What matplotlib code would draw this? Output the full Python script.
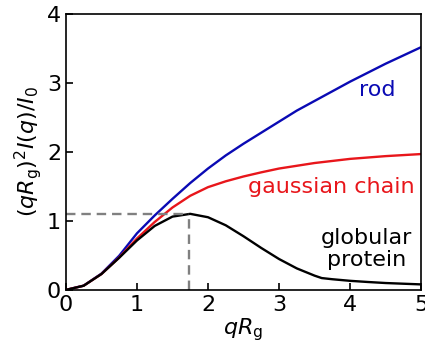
import matplotlib
matplotlib.use('Agg')
import matplotlib.pyplot as plt

# q*Rg values (shared grid for rod and gaussian chain)
qrg = [0, 0.25, 0.5, 0.75, 1.0, 1.25, 1.5, 1.75, 2.0, 2.25, 2.5,
       2.75, 3.0, 3.25, 3.5, 3.75, 4.0, 4.25, 4.5, 4.75, 5.0]

rod = [0, 0.062, 0.236, 0.495, 0.82, 1.08, 1.32, 1.55, 1.76, 1.95, 2.12,
       2.28, 2.44, 2.60, 2.74, 2.88, 3.02, 3.15, 3.28, 3.40, 3.52]

gauss = [0, 0.061, 0.230, 0.470, 0.745, 0.985, 1.195, 1.365, 1.49, 1.575, 1.645,
         1.705, 1.76, 1.80, 1.84, 1.87, 1.90, 1.92, 1.94, 1.955, 1.97]

# globular protein has its own grid (kink near 3.6)
qrg_glob = [0, 0.25, 0.5, 0.75, 1.0, 1.25, 1.5, 1.75, 2.0, 2.25, 2.5,
            2.75, 3.0, 3.25, 3.5, 3.6, 3.75, 4.0, 4.25, 4.5, 4.75, 5.0]
glob = [0, 0.061, 0.230, 0.466, 0.717, 0.928, 1.063, 1.103, 1.054, 0.937, 0.778,
        0.608, 0.448, 0.312, 0.207, 0.172, 0.155, 0.132, 0.115, 0.100, 0.090, 0.080]

peak_x = 1.73
peak_y = 1.10

fig = plt.figure(figsize=(4.25, 3.51), dpi=100)
ax = fig.add_axes([0.155, 0.174, 0.836, 0.786])

blue = '#0a0ab4'
red = '#e8161b'

ax.plot(qrg, rod, color=blue, lw=1.7)
ax.plot(qrg, gauss, color=red, lw=1.7)
ax.plot(qrg_glob, glob, color='black', lw=1.7)

# dashed guides to the globular peak
ax.plot([0, peak_x], [peak_y, peak_y], color='gray', lw=1.7, ls=(0, (4, 2.5)))
ax.plot([peak_x, peak_x], [0, peak_y], color='gray', lw=1.7, ls=(0, (4, 2.5)))

ax.text(4.38, 2.9, 'rod', color=blue, fontsize=16, ha='center', va='center')
ax.text(3.73, 1.49, 'gaussian chain', color=red, fontsize=16, ha='center', va='center')
ax.text(4.23, 0.59, 'globular\nprotein', color='black', fontsize=16,
        ha='center', va='center', multialignment='center', linespacing=1.15)

ax.set_xlim(0, 5)
ax.set_ylim(0, 4)
ax.set_xticks([0, 1, 2, 3, 4, 5])
ax.set_yticks([0, 1, 2, 3, 4])
ax.tick_params(direction='in', length=5, width=1.2, labelsize=16,
               top=False, right=False)
for s in ax.spines.values():
    s.set_linewidth(1.2)

ax.set_xlabel(r'$qR_\mathrm{g}$', fontsize=16, labelpad=1)
ax.set_ylabel(r'$(qR_\mathrm{g})^2I(q)/I_0$', fontsize=16, labelpad=2)

fig.savefig('out.png', dpi=100)
